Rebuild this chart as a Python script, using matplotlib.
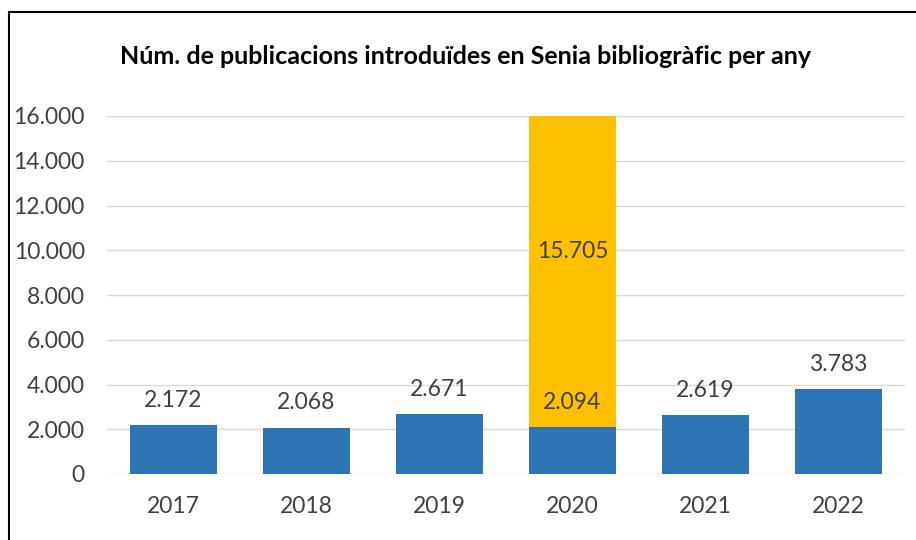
import matplotlib.pyplot as plt
from matplotlib.patches import Rectangle

years = ['2017', '2018', '2019', '2020', '2021', '2022']
base = [2172, 2068, 2671, 2094, 2619, 3783]
extra = [0, 0, 0, 15705, 0, 0]
yticks = [0, 2000, 4000, 6000, 8000, 10000, 12000, 14000, 16000]

plt.rcParams['font.family'] = ['Lato', 'DejaVu Sans']

blue = '#2E75B6'
yellow = '#FFC000'
txt = '#404040'


def fmt(v):
    return f'{v:,}'.replace(',', '.')


fig = plt.figure(figsize=(9.16, 5.4), dpi=100)
ax = fig.add_axes([107 / 916, 66 / 540, 798 / 916, 358 / 540])

x = range(len(years))
ax.bar(x, base, width=0.66, color=blue, zorder=2)
ax.bar(x, extra, width=0.66, bottom=base, color=yellow, zorder=2)

ax.set_ylim(0, 16000)
ax.set_xlim(-0.5, len(years) - 0.5)
ax.set_yticks(yticks)
ax.set_yticklabels([fmt(v) for v in yticks])
ax.set_xticks(list(x))
ax.set_xticklabels(years)
ax.tick_params(length=0, labelsize=16.5, colors=txt)
ax.tick_params(axis='x', pad=16)
ax.tick_params(axis='y', pad=16)
ax.grid(axis='y', color='#D9D9D9', linewidth=1, zorder=0)
for s in ax.spines.values():
    s.set_visible(False)

for i, v in enumerate(base):
    ax.annotate(fmt(v), (i, v), xytext=(0, 18), textcoords='offset points',
                ha='center', va='center', fontsize=16.5, color=txt, zorder=3)
for i, v in enumerate(extra):
    if v:
        ax.text(i, base[i] + v / 2, fmt(v), ha='center', va='center',
                fontsize=16.5, color=txt, zorder=3)

fig.text(0.508, 1 - 57 / 540, 'Núm. de publicacions introduïdes en Senia bibliogràfic per any',
         ha='center', va='center', fontsize=18, fontweight='bold', color='black')

fig.patches.append(Rectangle((9 / 916, -0.1), 1.0, 1 - 12 / 540 + 0.1,
                             transform=fig.transFigure, fill=False,
                             edgecolor='black', linewidth=1.5))

fig.savefig('out.png', dpi=100)
